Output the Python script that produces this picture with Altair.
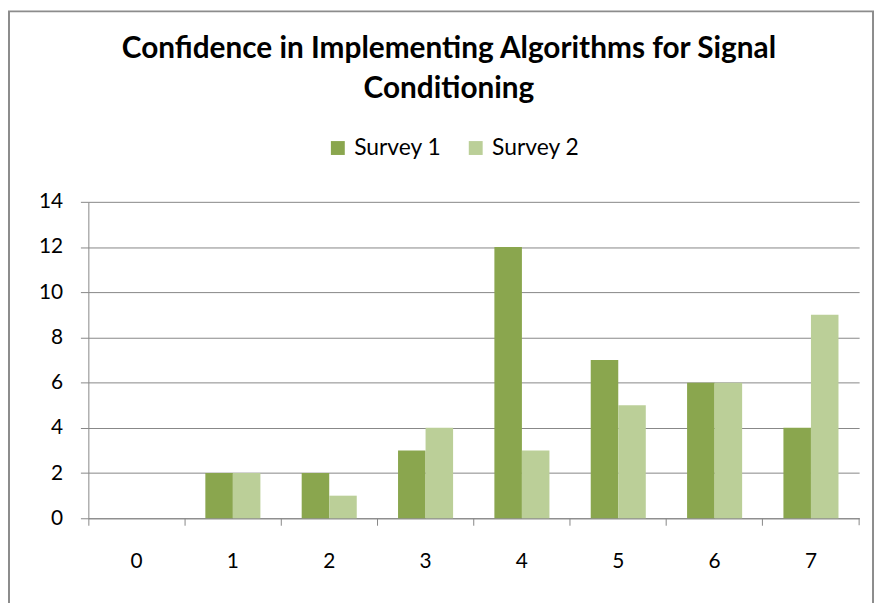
import altair as alt
import pandas as pd

categories = ["0", "1", "2", "3", "4", "5", "6", "7"]
survey1 = [0, 2, 2, 3, 12, 7, 6, 4]
survey2 = [0, 2, 1, 4, 3, 5, 6, 9]
series_names = ["Survey 1", "Survey 2"]
colors = ["#8AA64E", "#BBCF98"]
y_ticks = [0, 2, 4, 6, 8, 10, 12, 14]
title_lines = ["Confidence in Implementing Algorithms for Signal", "Conditioning"]

rows = []
for c, a, b in zip(categories, survey1, survey2):
    rows.append({"cat": c, "series": series_names[0], "value": a})
    rows.append({"cat": c, "series": series_names[1], "value": b})
df = pd.DataFrame(rows)

W, H = 777, 319
GRAY = "#878787"
FONT = "Lato"

bars = alt.Chart(df).mark_bar().encode(
    x=alt.X("cat:N", sort=categories,
            scale=alt.Scale(paddingInner=0, paddingOuter=0),
            axis=alt.Axis(title=None, labelAngle=0, bandPosition=0,
                          tickSize=7, tickColor=GRAY, domainColor=GRAY,
                          labelPadding=26, labelFontSize=21, labelFont=FONT,
                          labelColor="#000000", grid=False)),
    xOffset=alt.XOffset("series:N", sort=series_names,
                        scale=alt.Scale(paddingOuter=0.75, paddingInner=0)),
    y=alt.Y("value:Q",
            scale=alt.Scale(domain=[0, 14], nice=False),
            axis=alt.Axis(title=None, values=y_ticks, tickSize=8, tickColor=GRAY,
                          domainColor=GRAY, gridColor=GRAY, grid=True,
                          labelPadding=18, labelFontSize=21, labelFont=FONT,
                          labelColor="#000000")),
    color=alt.Color("series:N", sort=series_names,
                    scale=alt.Scale(domain=series_names, range=colors),
                    legend=alt.Legend(title=None, orient="none", direction="horizontal",
                                      legendX=240, legendY=-66,
                                      symbolType="square", symbolSize=196,
                                      symbolStrokeWidth=0, symbolOpacity=1,
                                      labelFontSize=23, labelFont=FONT,
                                      labelColor="#000000", labelOffset=5,
                                      columnPadding=23, padding=0)),
)

end_tick = alt.Chart(alt.Data(values=[{}])).mark_rule(color=GRAY).encode(
    x=alt.value(W), y=alt.value(H), y2=alt.value(H + 7)
)

border = alt.Chart(alt.Data(values=[{}])).mark_rect(
    fill="transparent", stroke="#8C8C8C", strokeWidth=2
).encode(
    x=alt.value(-80), x2=alt.value(791), y=alt.value(-192), y2=alt.value(520)
)

chart = alt.layer(border, bars, end_tick).properties(
    width=W, height=H,
    title=alt.TitleParams(text=title_lines, font=FONT, fontSize=30, fontWeight="bold",
                          color="#000000", anchor="middle", frame="group",
                          dx=-25, dy=94, offset=0, lineHeight=40),
    autosize=alt.AutoSizeParams(type="none"),
    padding={"left": 81, "top": 193, "right": 16, "bottom": 83},
).configure_view(strokeWidth=0)

chart.save("out.html", embed_options={"renderer": "svg", "actions": False})
